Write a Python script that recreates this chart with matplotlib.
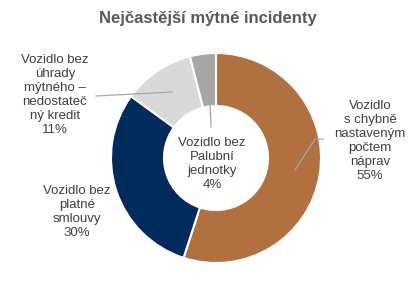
import matplotlib.pyplot as plt

labels = ["Vozidlo\ns chybně\nnastaveným\npočtem\nnáprav\n55%",
          "Vozidlo bez\nplatné\nsmlouvy\n30%",
          "Vozidlo bez\núhrady\nmýtného –\nnedostateč\nný kredit\n11%",
          "Vozidlo bez\nPalubní\njednotky\n4%"]
values = [55, 30, 11, 4]
colors = ["#B07040", "#002B5C", "#D9D9D9", "#A6A6A6"]

plt.rcParams['font.family'] = ['Liberation Sans', 'DejaVu Sans']

H = 284  # figure height in px, used to flip y from picture coords


fig = plt.figure(figsize=(4.16, 2.84), dpi=100)
ax = fig.add_axes([0, 0, 1, 1])

ax.pie(values, colors=colors, startangle=90, counterclock=False,
       center=(216, H - 158), radius=105, frame=True,
       wedgeprops=dict(width=53, edgecolor='white', linewidth=1.5))
ax.set_xlim(0, 416)
ax.set_ylim(0, H)
ax.axis('off')

txt = dict(ha='center', va='center', fontsize=9.5, color='#404040',
           linespacing=1.22)
ax.text(370, H - 141, labels[0], **txt)
ax.text(77, H - 212, labels[1], **txt)
ax.text(55, H - 95, labels[2], **txt)
ax.text(212, H - 164, labels[3], **txt)

# leader lines
lc = dict(color='#A6A6A6', linewidth=0.9)
ax.plot([323, 315, 295], [H - 139, H - 139, H - 170], **lc)
ax.plot([96, 172], [H - 96, H - 92], **lc)
ax.plot([210, 211], [H - 104, H - 127], **lc)

ax.text(208, H - 19, "Nejčastější mýtné incidenty", ha='center', va='center',
        fontsize=12, fontweight='bold', color='#595959')

fig.savefig("out.png", dpi=100)
